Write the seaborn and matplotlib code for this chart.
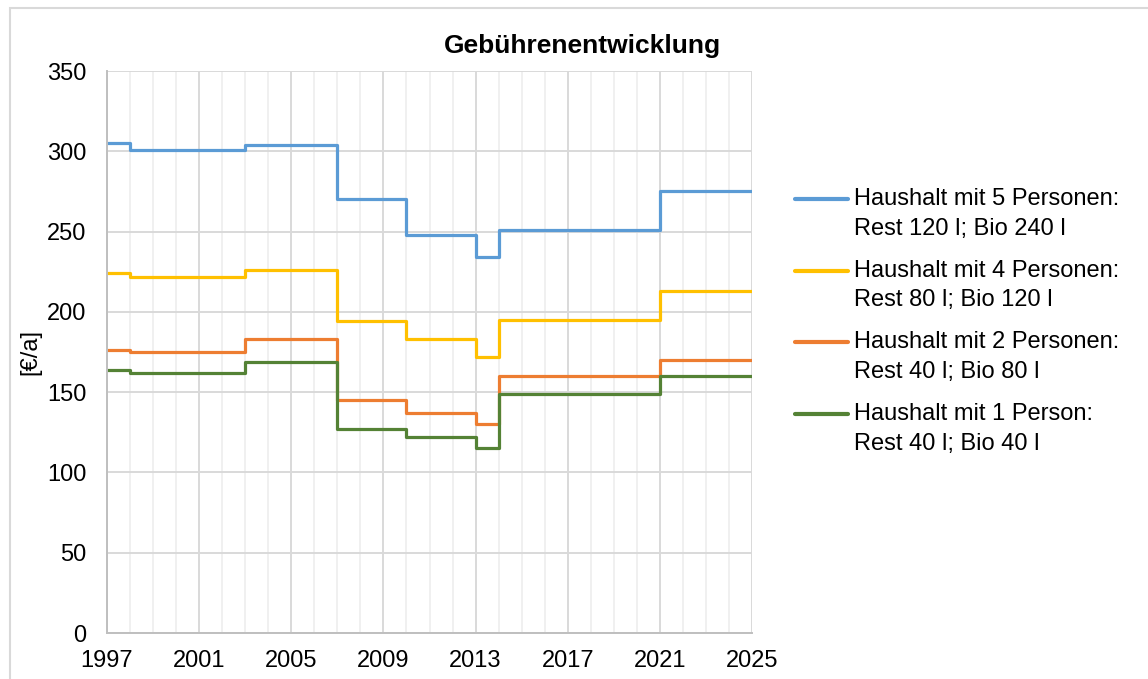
import pandas as pd
import matplotlib
matplotlib.use("Agg")
import matplotlib.pyplot as plt
from matplotlib.patches import Rectangle
from matplotlib.ticker import MultipleLocator
import seaborn as sns

# Gebühren pro Jahr (Stufen, gültig ab dem Jahr)
years = [1997, 1998, 2003, 2007, 2010, 2013, 2014, 2021, 2025]
p5 = [305, 301, 304, 270, 248, 234, 251, 275, 275]
p4 = [224, 222, 226, 194, 183, 172, 195, 213, 213]
p2 = [176, 175, 183, 145, 137, 130, 160, 170, 170]
p1 = [164, 162, 169, 127, 122, 115, 149, 160, 160]

labels = [
    "Haushalt mit 5 Personen:\nRest 120 l; Bio 240 l",
    "Haushalt mit 4 Personen:\nRest 80 l; Bio 120 l",
    "Haushalt mit 2 Personen:\nRest 40 l; Bio 80 l",
    "Haushalt mit 1 Person:\nRest 40 l; Bio 40 l",
]
colors = ["#5B9BD5", "#FFC000", "#ED7D31", "#548235"]

df = pd.DataFrame({"Jahr": years, labels[0]: p5, labels[1]: p4,
                   labels[2]: p2, labels[3]: p1})
long = df.melt(id_vars="Jahr", var_name="Haushalt", value_name="Gebuehr")

sns.set_theme(style="white")
plt.rcParams["font.family"] = ["Liberation Sans", "DejaVu Sans"]
plt.rcParams["text.color"] = "black"
plt.rcParams["axes.labelcolor"] = "black"

fig = plt.figure(figsize=(11.48, 6.79), dpi=100)
ax = fig.add_axes([107 / 1148, 46 / 679, 645 / 1148, 562 / 679])

sns.lineplot(data=long, x="Jahr", y="Gebuehr", hue="Haushalt",
             hue_order=labels, palette=colors, drawstyle="steps-post",
             linewidth=2.3, ax=ax)

ax.set_xlim(1997, 2025)
ax.set_ylim(0, 350)
ax.set_xticks(range(1997, 2026, 4))
ax.xaxis.set_minor_locator(MultipleLocator(1))
ax.yaxis.set_major_locator(MultipleLocator(50))
ax.set_axisbelow(True)
ax.grid(which="major", color="#d9d9d9", linewidth=1.4)
ax.grid(which="minor", axis="x", color="#f0f0f0", linewidth=1.4)
ax.tick_params(which="both", length=0, labelsize=17, colors="#000000")
ax.tick_params(axis="y", pad=15)
ax.tick_params(axis="x", pad=12)
for side in ["top", "right"]:
    ax.spines[side].set_visible(False)
for side in ["left", "bottom"]:
    ax.spines[side].set_color("#bfbfbf")
    ax.spines[side].set_linewidth(1.4)

ax.set_xlabel("")
ax.set_ylabel("[€/a]", fontsize=17)
ax.yaxis.set_label_coords(-0.101, 0.5)

fig.text(582 / 1148, 1 - 46 / 679, "Gebührenentwicklung", ha="center",
         va="center", fontsize=19, fontweight="bold")

leg = ax.legend(loc="upper left", bbox_to_anchor=(795 / 1148, 1 - 188 / 679),
                bbox_transform=fig.transFigure, frameon=False, fontsize=17,
                handlelength=2.25, handletextpad=0.25, labelspacing=0.85,
                borderpad=0, borderaxespad=0)
for t in leg.get_texts():
    t.set_linespacing(1.45)
    t.set_color("black")
# Linie auf Höhe der ersten Textzeile
for ln in leg.get_lines():
    ln.set_linewidth(3)
    ln.set_ydata([y + 11 for y in ln.get_ydata()])

# Rahmen des Diagrammbereichs
fig.patches.append(Rectangle((10 / 1148, -0.1), 1.2, 1.1 - 8 / 679,
                             transform=fig.transFigure, fill=False,
                             edgecolor="#d9d9d9", linewidth=1.5))

fig.savefig("out.png", dpi=100)
